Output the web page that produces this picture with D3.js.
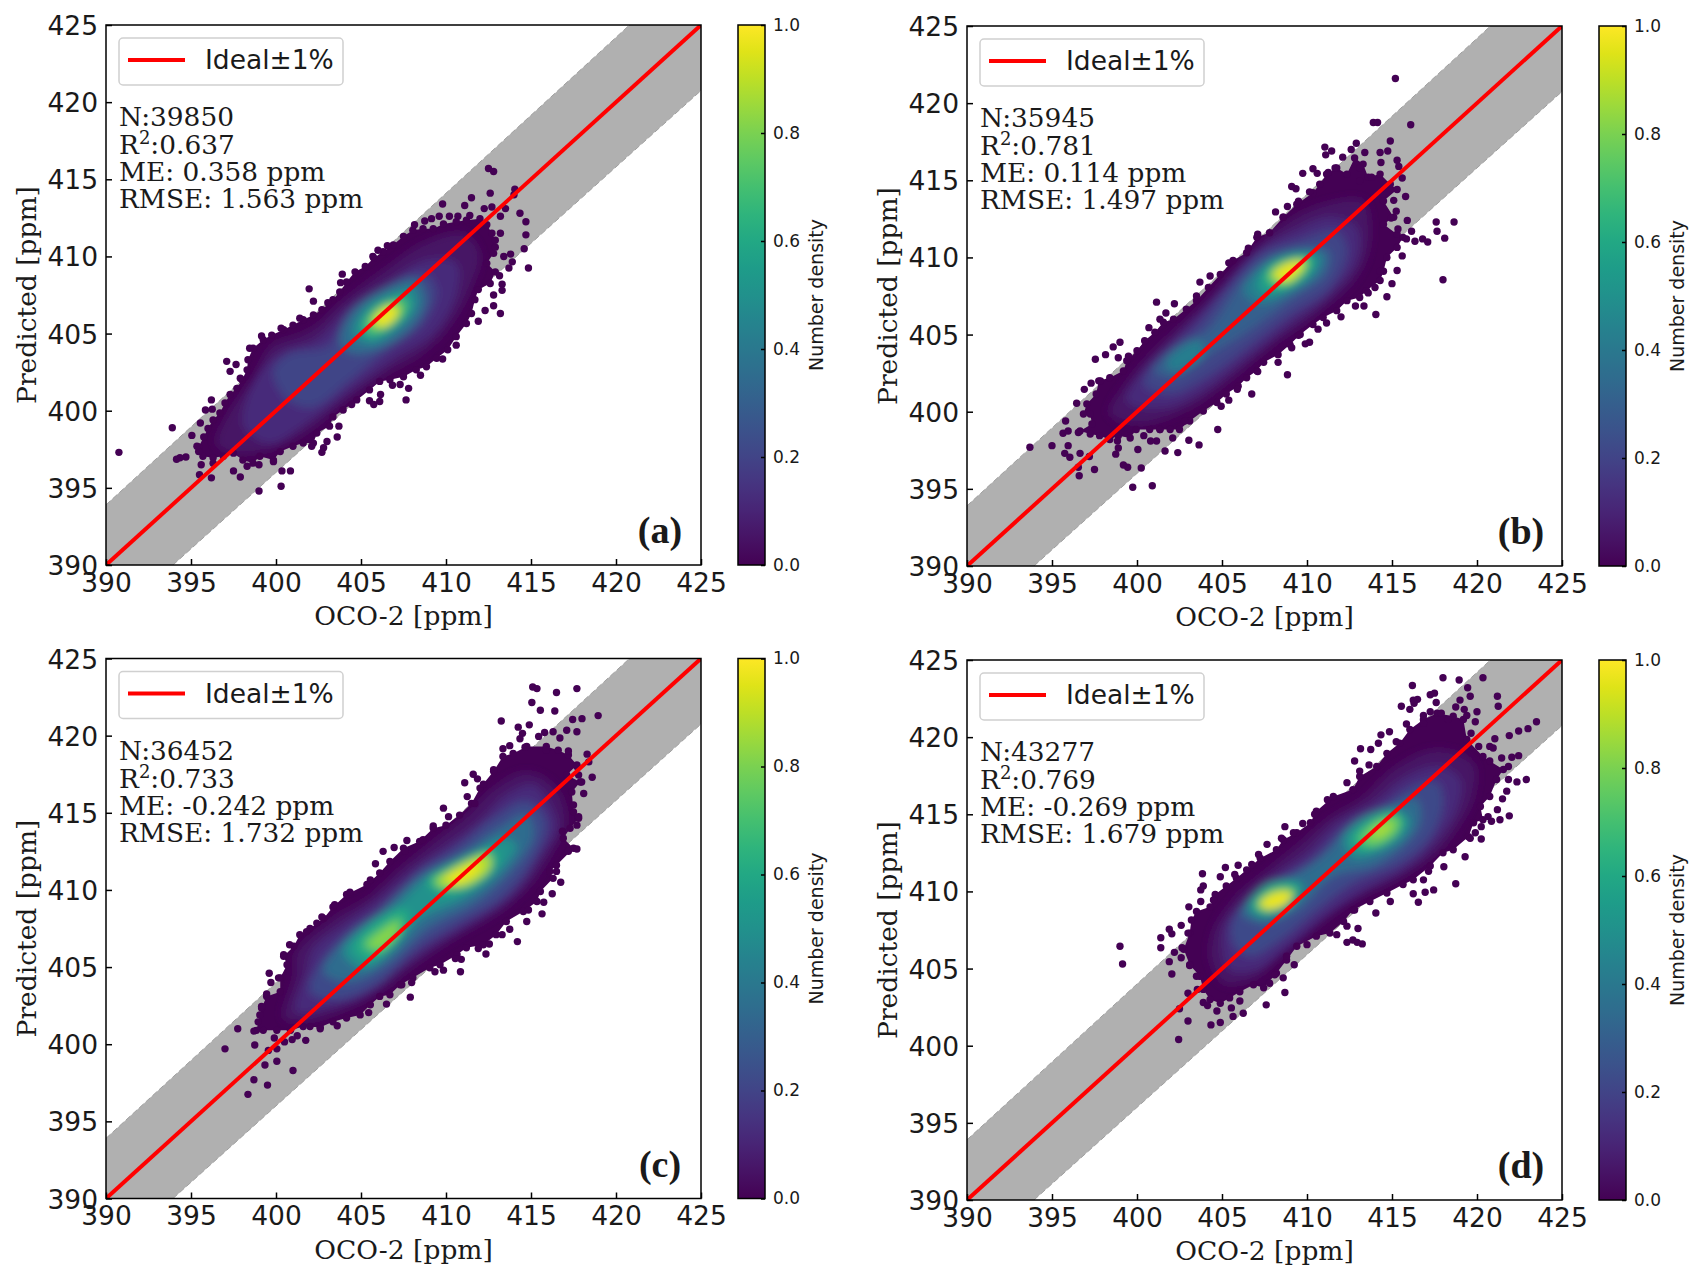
<!DOCTYPE html>
<html>
<head>
<meta charset="utf-8">
<script src="https://cdn.jsdelivr.net/npm/d3@7"></script>
<style>
  body { margin: 0; background: #fff; }
  svg { display: block; }
</style>
</head>
<body>
<svg id="fig" width="1705" height="1280"></svg>
<script>
// axis ticks and stats
const axisTicks = [390, 395, 400, 405, 410, 415, 420, 425]
const densityTicks = [0, 0.2, 0.4, 0.6, 0.8, 1]
const idealLine = [390, 425]
const panelTags = ['(a)', '(b)', '(c)', '(d)']
const statN = ['39850', '35945', '36452', '43277']
const statR2 = ['0.637', '0.781', '0.733', '0.769']
const statME = ['0.358', '0.114', '-0.242', '-0.269']
const statRMSE = ['1.563', '1.497', '1.732', '1.679']

// points along the rim of each cloud, ppm
const edgeA = [[395.45,397.65],[395.75,398.3],[396,398.85],[396.3,399.4],[396.7,399.85],[397,400.5],[397.3,401.05],[397.7,401.45],[398,402],[398.3,402.65],[398.35,403.3],[398.65,404.05],[399.25,404.6],[399.75,404.9],[400.45,405.25],[401,405.55],[401.6,405.9],[402.2,406.2],[402.7,406.55],[403.35,407.2],[403.75,407.7],[404.15,408.35],[404.65,409],[405.25,409.35],[405.75,409.9],[406.3,410.3],[406.9,410.75],[407.5,411.3],[408.05,411.7],[408.65,411.8],[409.25,411.8],[409.85,412.1],[410.6,412.25],[411.2,412.35],[412,412.45],[412.4,412.05],[412.7,411.5],[412.9,411.05],[412.8,410.2],[412.4,409.55],[412.9,409],[412.6,408.25],[411.9,407.85],[411.7,407.2],[411.5,406.3],[411.2,405.65],[410.6,404.8],[410.1,403.95],[409.45,403.4],[408.85,402.85],[408.25,402.65],[407.5,402.2],[406.7,402],[406.1,401.9],[405.5,401.35],[404.75,400.7],[403.95,400.05],[403.35,399.6],[403.15,399],[402.4,398.55],[402.2,397.9],[401.6,397.9],[401,397.7],[400.25,397.35],[399.85,396.8],[399.05,397.05],[398.65,396.6],[398.05,396.8],[397.5,397.25],[396.9,397.05],[396.3,396.95],[395.7,397.05],[395.45,397.35]]
const edgeB = [[396.85,399.85],[397.05,400.5],[397.6,401.15],[397.75,402],[398.4,402.2],[399.2,402.65],[399.4,403.3],[400,403.95],[400.45,404.6],[401.05,405.15],[401.55,405.8],[402.15,406],[402.9,406.65],[403.5,407.2],[404.2,408.05],[404.9,408.9],[405.65,409.8],[406.45,410.3],[407.05,411.3],[407.8,411.6],[408.6,412.6],[409.4,413.45],[410.35,414.2],[410.75,414.75],[411.15,415.4],[411.75,415.8],[412.35,415.4],[412.8,416.45],[413.3,416.05],[413.6,415.2],[414.3,415.4],[414.9,414.75],[415.3,414.4],[414.5,413.65],[415.1,412.6],[414.5,412.15],[415.3,411.5],[415.65,411.3],[415.3,410.65],[414.7,410],[414.5,409.1],[414.3,408.5],[413.5,407.85],[413.1,407.4],[412.35,407.2],[411.75,406.55],[410.95,406.1],[410.35,405.65],[409.6,405],[409,404.35],[408.3,403.7],[407.45,403.2],[407.05,402.65],[406.45,402.2],[405.95,401.65],[405.25,401.15],[404.7,400.6],[403.9,400.05],[403.1,399.4],[402.5,398.85],[401.95,398.85],[401.35,398.85],[400.75,398.85],[399.95,398.85],[399.6,398.3],[398.9,398.45],[398.4,398.2],[397.8,398.45],[397.25,398.55],[396.65,398.75],[397.35,399.2],[397.25,399.85]]
const edgeC = [[398.85,400.9],[399.05,401.9],[399.15,402.35],[399.45,403.1],[400.25,403.4],[400.25,404.3],[400.65,405.15],[400.45,405.7],[401.05,406.35],[401.4,407.1],[402,407.5],[402.8,408.15],[403.35,408.9],[404.15,409.7],[405.35,410.35],[406.1,411.1],[406.7,411.85],[407.5,412.7],[408.45,413.15],[409.25,414],[410,414.2],[410.8,414.85],[411.5,415.6],[412,416.6],[412.8,417.7],[413.35,418.65],[413.95,418.85],[414.75,419.3],[415.9,419.3],[416.6,419.05],[417.2,418.75],[417.7,418.1],[417.1,417.45],[417.9,417],[417.4,416.35],[417.5,415.05],[417.8,414.65],[417.3,414],[416.9,413.35],[417.5,412.7],[416.5,411.6],[416.1,411.2],[416.3,410.75],[415.55,409.9],[415.35,409.25],[414.55,408.6],[413.55,407.95],[412.95,407.1],[412.2,406.45],[411.2,406.25],[410.65,405.8],[409.65,405.15],[409.05,404.95],[408.05,404.3],[407.3,403.85],[406.7,403.2],[406.1,403.1],[405.55,402.55],[404.95,401.9],[404.15,401.7],[403.35,401.45],[402.6,401.1],[401.6,401.15],[400.85,400.9],[400.05,400.9],[399.25,400.9]]
const edgeD = [[403.2,408.15],[403.5,408.7],[404.3,409],[404.6,409.8],[405.25,410.35],[405.85,410.85],[406.45,411.4],[407.25,412.15],[408.2,412.7],[408.6,413.35],[409.4,413.8],[410.2,414.45],[410.55,415.2],[411.55,416.15],[412.7,416.6],[413.1,417.45],[414.1,418.1],[414.7,418.95],[415.45,419.6],[416.05,420.5],[416.85,421.15],[417.65,421.55],[418.6,421.35],[419.2,421.15],[419.4,419.85],[420.35,418.75],[420.75,418.45],[421.55,417.9],[421.15,417.25],[420.75,416.15],[420.2,415.5],[420.35,414.65],[419.8,414.45],[419.5,413.55],[418.6,412.7],[418,412.5],[417.25,411.65],[416.25,410.75],[415.65,410.45],[414.7,409.9],[413.7,409.35],[412.7,408.8],[412.15,408.05],[411.35,407.3],[410.55,407.1],[409.4,406.45],[408.8,405.55],[408.2,404.7],[407.45,403.75],[406.85,403.95],[406.05,403.5],[405.45,403.1],[404.9,402.75],[404.3,403],[403.9,403.65],[403.7,404.5],[403.1,405.25],[402.75,406.25],[403.1,407.3]]

// scattered single points around each cloud, ppm
const dotsA = [[412.5,415.7],[412.8,415.5],[412.6,414.1],[411.5,413.8],[411.1,413.3],[409.8,413.4],[414.05,414.35],[414,414],[412.7,413.2],[412.25,413.1],[413.5,413.1],[414.35,412.8],[414.7,412.25],[414.7,411.4],[414.6,410.5],[414.85,409.25],[413.2,412.6],[413.2,411.5],[412.9,410.6],[413.8,410.15],[413.4,410],[413.9,409.65],[413.7,409.25],[413.15,408.75],[413.3,408.2],[413.3,407.8],[412.8,407.5],[412.8,406.8],[412.3,406.5],[413.2,406.3],[411.9,405.8],[410.6,404.25],[409.8,403.35],[408.5,402.3],[407.8,401.45],[407.65,400.7],[407.3,401.7],[406.85,401.65],[406.15,401.05],[405.5,400.65],[405.75,400.4],[406.1,400.6],[404.45,400.4],[403.7,399],[403.6,398.3],[403,398],[402.8,397.6],[402.7,397.3],[402.1,397.7],[400.85,396.1],[400.35,396.1],[400.3,395.1],[399,394.8],[397.9,395.7],[397.5,396.1],[396.2,395.65],[395.5,395.85],[395.6,396.5],[394.7,397],[394.35,396.95],[394.15,396.85],[393.9,398.9],[395.05,398.4],[395.35,397.7],[395.55,399.2],[395.85,400.05],[396.25,400.1],[396.2,400.7],[397.1,403.2],[397.65,403],[397.3,402.55],[397.9,402.1],[401.95,407.9],[402.2,407.1],[403.05,407],[403.9,408.85],[403.8,408.3],[400.3,405.35],[401.4,406],[399.15,404.85],[405.7,410],[406,410.4],[406.55,410.7],[408.15,412.05],[408.75,412.3],[409.15,412.45],[409.6,412.6],[410.2,412.6],[410.7,412.6],[411.4,412.65],[398.45,404.05],[399,396.5],[398.3,396.4],[399.85,396.7],[396.3,396.6],[390.76,397.3]]
const dotsB = [[415.2,421.6],[413.9,418.75],[414.15,418.75],[416.1,418.6],[414.9,417.55],[411.05,417.15],[411.45,416.9],[411.1,416.65],[412.9,417.4],[412.6,417],[413.4,416.8],[412.1,416.5],[414.3,416.8],[414.75,416.9],[415.3,416.3],[415.4,415.9],[415.6,415.15],[410.35,415.75],[409.75,415.45],[410.6,415.45],[409.1,414.6],[409.35,414.45],[410.15,414.25],[411.25,415.5],[411.65,415.8],[413.1,415.8],[413.8,415.2],[413.1,414.95],[414.35,416.15],[415.8,413.95],[415.1,413.7],[415.25,413],[415.9,412.4],[414.95,412.55],[417.6,412.3],[418.65,412.3],[417.65,411.7],[418.1,411.25],[416.8,411.2],[417.1,411],[416.35,411.05],[416.15,411.7],[415.85,411.2],[415.35,411.85],[415.6,410.1],[415.3,409.15],[418,408.55],[415,408.3],[414.7,407.45],[414.05,406.3],[414,408.05],[413.6,407.7],[414.3,409.1],[413.35,406.85],[412.85,406.85],[412,406.15],[411.15,405.75],[410.65,405.35],[410.15,404.5],[409.9,404.4],[409.1,404.15],[409.5,404.95],[408.85,402.4],[408.3,403.2],[407.1,402.6],[406.75,401.15],[405.9,401.45],[405.4,400.75],[404.95,400.35],[404.75,398.85],[403.65,397.85],[403.05,398.15],[402.4,397.35],[401.65,397.45],[402.1,398.3],[401.15,398.1],[400.8,398.1],[400.4,398.45],[400.05,397.55],[400.25,396.35],[399.45,396.4],[399.2,396.55],[400.9,395.2],[399.75,395.1],[397.5,396.25],[396.6,395.85],[396.55,396.4],[397.2,397.1],[396.05,397.05],[395.75,397.3],[396.65,397.3],[395.95,397.8],[395,397.8],[393.7,397.7],[398.75,397.25],[398.9,397.65],[395.65,398.6],[395.95,398.75],[395.8,399.4],[396.55,398.65],[396.45,400.55],[396.9,401.45],[397.3,401.85],[397.85,402],[397.55,403.4],[398.15,403.7],[398.6,404.2],[399,404.5],[398.9,403.5],[399.5,403.6],[400.7,405.45],[401.15,407.1],[402.2,407],[401.7,406.4],[401.35,406],[403.7,408.4],[404.3,408.8],[403.5,407.5],[406.55,410.6],[407.1,411.5],[405.4,409.65],[408.15,412.95],[408.85,413.3],[408.6,412.6],[409.5,413.65],[401.35,398.85],[402.8,399.4],[398.85,398.1]]
const dotsC = [[415.1,423.15],[415.35,423.05],[416.5,422.8],[417.7,423.05],[415.05,422.15],[415.55,421.65],[416.4,421.6],[418.95,421.3],[417.45,421.05],[418,421.1],[413.25,420.95],[414.9,420.7],[414.25,420.55],[414.5,420.15],[414.35,419.8],[415.8,420.2],[415.45,419.95],[416.3,420.25],[417.1,420.35],[417.7,420.25],[416.7,419.85],[413.75,419.35],[413.35,419.15],[414.65,419.25],[415.9,419.05],[417.2,419],[418.3,418.8],[418.4,418.3],[417.7,418],[418.6,417.3],[417.98,417],[418.1,416.25],[417.8,417.45],[417.5,415.5],[417.8,414.75],[417.7,414.2],[416.85,413.8],[417.7,412.65],[417.2,412.5],[416.75,410.5],[416.5,411.2],[416.25,409.75],[415.75,409.2],[415.65,408.45],[414.85,408.7],[414.75,407.95],[414.2,406.65],[413.75,407.45],[413.3,407.1],[412.55,406.5],[412.35,405.85],[411.9,406.2],[410.9,405.5],[410.85,404.7],[410.55,405.55],[409.85,404.8],[409.35,404.7],[407.98,404],[407.9,403.05],[407.4,403.85],[406.5,402.6],[405.45,402.05],[403.6,401.2],[402.6,401],[402,401.15],[401.75,400.25],[401.25,400.55],[400.95,400.3],[400.5,400.15],[399.9,400.4],[400.05,399.7],[399.55,399.6],[398.75,399.95],[398.7,400.85],[397.75,401],[397,399.7],[400.05,398.9],[399.35,398.65],[401,398.3],[398.7,397.7],[399.5,397.35],[398.35,396.75],[398.95,401.45],[399.15,402.45],[399.45,403.25],[400.15,404.3],[399.6,404.6],[399.7,404],[400.45,405.8],[400.8,406.45],[401.8,407.3],[402.4,407.85],[402.7,408.25],[403.45,409.05],[404.35,409.85],[405.55,410.65],[405.85,411.7],[406.3,412.5],[406.95,412.75],[407.7,413.2],[407.6,412.5],[409.25,414.15],[408.65,413.25],[409.85,415.3],[410.15,414.75],[411.1,416.95],[411.6,417.5],[411.85,417.2],[412.2,416.85],[411.25,416.05],[412.8,417.8],[411.7,415.6]]
const dotsD = [[418,423.85],[418.95,423.7],[420.35,423.85],[416.2,423.35],[419.45,423.2],[417.25,422.75],[417.5,422.85],[419.6,422.65],[421.2,422.65],[416.25,422.4],[416.5,422.45],[416.3,422.2],[419,422.4],[417.6,422.25],[421.25,422],[415.55,422],[416.05,421.8],[419.25,421.8],[418.75,421.95],[420,421.65],[417.25,421.65],[416.85,421.4],[417.9,421.55],[418.3,421.15],[419.4,421.4],[419.9,421],[415.85,420.85],[416.85,420.9],[419.65,420.25],[414.85,420.35],[414.35,420.15],[423.5,421],[423,420.55],[422.45,420.4],[421.9,420.1],[421.05,419.9],[420.75,419.4],[420.1,419.4],[420.95,419.3],[422.45,418.8],[422.05,418.7],[421.45,418.65],[421.85,418.1],[422.9,417.25],[422.35,417.1],[421.85,417.25],[421.75,416.5],[421.5,416],[421.2,415.3],[421.9,414.9],[421.35,414.65],[420.65,414.85],[420.85,414.55],[420.25,413.4],[420.25,414.2],[419.9,413.8],[419.6,413.45],[419.3,412.25],[418.75,410.5],[418.05,411.6],[417.45,410.1],[416.95,409.95],[416.25,409.85],[416.55,409.3],[417.15,411.3],[416.85,410.75],[414.9,409.35],[414.05,408.6],[412.8,408.8],[413,407.6],[412.35,407.75],[412.35,406.7],[412.7,406.85],[413.25,406.6],[412.95,406.7],[411.75,407.2],[410,406.55],[409.25,405.25],[408.8,405.8],[408.7,403.45],[408.6,404.4],[408.1,404.6],[407.8,404.05],[407.6,402.65],[406.25,402.1],[405.65,401.9],[405.55,402.45],[406.05,402.9],[404.9,401.5],[404.35,401.35],[404.7,402.25],[403,401.6],[402.45,400.4],[402.5,402.4],[403.9,402.8],[404.15,402.6],[403,403.4],[403.55,403.65],[403.5,404.5],[402.05,404.65],[401.9,405.45],[403.1,405.2],[402.6,405.7],[402.2,406.05],[401.4,406.35],[401.4,407],[402.65,406.35],[402.05,407.25],[401.9,407.55],[402.6,407.8],[403,407.3],[403.05,409],[403.75,409.35],[403.85,411.15],[404.9,410.95],[403.9,410.35],[403.75,410.1],[404.5,409.45],[405.2,411.55],[405.95,411.7],[405.75,411.1],[406.75,411.75],[407.15,412.4],[407.65,413.05],[408.5,413.45],[408.7,414.2],[409.75,414.4],[409.2,413.8],[410.45,415],[411.2,415.95],[412.35,417.05],[412.8,418.45],[413.15,419.25],[413.1,417.8],[413.75,419.2],[413.65,418.2],[414.2,419.6],[415.25,419.7],[399.15,405.3],[399,406.45]]

// density contours traced by eye: [level, outline in ppm]
const ringsA = [
  [0.05, [[396.5,397.9],[397.3,400.05],[398.7,402.2],[399.65,404.15],[402,405.25],[404,407.2],[406.3,409.1],[408.65,410.85],[411,411.5],[412,410.2],[411.4,407.8],[410.2,405.45],[408.65,403.75],[406.5,402.4],[404,400.5],[402,398.75],[399.65,397.45],[397.3,397.25]]],
  [0.12, [[398.1,399],[398.7,401.8],[400.2,403.7],[402.4,404.6],[404.35,406.75],[406.5,408.25],[408.85,409.75],[410.6,409.55],[410.6,407.6],[409.25,405],[407.1,403.5],[404.35,401.35],[402,399.4],[399.65,397.9]]],
  [0.2, [[399.85,402.65],[400.8,403.7],[403,404.15],[404.35,406.1],[406.3,407.85],[408.65,408.9],[409.45,407.85],[408.65,405.65],[406.7,404.15],[404.35,402],[402.2,400.25],[401,400.5],[400.2,401.35]]],
  [0.35, [[403.75,404.6],[404.35,406.3],[406.3,407.85],[408.25,408.5],[408.85,407.2],[407.9,405.25],[406,403.95],[404.35,403.75]]],
  [0.5, [[404.55,405],[405.15,406.55],[406.7,407.6],[408.05,407.85],[408.25,406.75],[407.1,405.25],[405.55,404.35]]],
  [0.7, [[405.15,405.45],[405.75,406.55],[406.9,407.2],[407.7,407.2],[407.6,406.3],[406.5,405.25],[405.55,404.9]]],
  [0.85, [[405.55,405.8],[406.1,406.55],[407.1,406.9],[407.35,406.55],[406.7,405.65],[405.9,405.35]]],
  [0.97, [[405.8,405.8],[406.45,406.7],[407.1,406.7],[407,406],[406.3,405.45]]]
]
const ringsB = [
  [0.05, [[398.4,399.85],[399.6,402.2],[401.55,404.6],[403.9,406.95],[406.25,409.8],[408.6,412.15],[410.95,413.45],[413.3,413.65],[413.7,411.05],[412.9,408.7],[410.55,406.3],[407.8,404.15],[405.45,402],[403.1,400.25],[400.35,399.2]]],
  [0.12, [[399.4,400.7],[400.4,402.65],[402.35,404.8],[404.7,407.6],[407.05,410.4],[409.2,411.7],[411.35,412.6],[412.9,411.95],[412.9,409.75],[411.35,407.6],[409,405.65],[406.25,403.3],[403.9,401.35],[401.55,400.25]]],
  [0.2, [[400.4,401.8],[401.55,403.7],[403.5,405.45],[405.25,407.85],[407.25,410.2],[409.4,411.05],[411.75,411.7],[412.35,410.4],[411.35,408.05],[409,406.3],[406.45,404.15],[404.3,402.4],[401.95,401.15]]],
  [0.3, [[400.95,402.65],[402.55,404.35],[404.1,405.25],[406.25,408.5],[407.8,410],[410,410.65],[411.35,410.4],[411.15,408.9],[409,407.2],[406.25,405],[404.3,403.7],[402.15,402.2]]],
  [0.42, [[401.75,403.3],[402.55,404.15],[403.7,404.6],[403.9,403.7],[402.9,402.85],[401.95,402.65]]],
  [0.42, [[406.25,407.85],[407.45,409.55],[409.2,410.4],[410.95,410.2],[410.75,409.1],[408.8,407.6],[407.25,406.95]]],
  [0.55, [[407.05,408.25],[407.8,409.55],[409.2,410.1],[410.55,410],[410.2,408.9],[408.6,407.8],[407.45,407.6]]],
  [0.72, [[407.6,408.7],[408.4,409.65],[409.6,410],[410.25,409.8],[409.6,408.7],[408.3,408.05]]],
  [0.88, [[407.9,408.9],[408.8,409.65],[409.8,409.8],[409.8,409.25],[408.8,408.35]]],
  [0.97, [[408.1,408.85],[409,409.65],[409.8,409.65],[409.3,408.9],[408.6,408.5]]]
]
const ringsC = [
  [0.05, [[400.45,401.7],[401.05,404.3],[401.2,406],[403.35,408.15],[405.35,409.45],[407.3,411.4],[409.25,413.15],[411.2,414.85],[412.8,416.6],[414.75,417.65],[416.5,416.6],[417.1,414.45],[416.3,412.5],[414.95,410.3],[413.2,408.6],[410.85,407.1],[408.45,405.35],[406.1,403.4],[403.75,402.1],[401.6,401.45]]],
  [0.12, [[401.2,402.1],[401.8,404.7],[402.2,406.2],[403.95,407.75],[405.9,409.25],[407.7,411],[409.85,412.7],[412,414.45],[413.55,416.15],[415.15,416.8],[416.1,415.5],[416.5,414],[415.5,412.05],[414.15,409.9],[412,408.15],[409.65,406.65],[407.3,404.9],[405.35,403.2],[402.98,402.35]]],
  [0.22, [[402,403.4],[402.8,405.55],[404.55,407.5],[406.5,408.8],[408.45,411.2],[410.6,412.7],[412.8,414.65],[414.75,415.75],[415.9,414.45],[415.15,412.05],[413.2,409.45],[410.85,407.95],[408.25,406.2],[406.1,404.05],[403.75,402.95]]],
  [0.35, [[402.8,404.7],[404.15,406.85],[406.1,408.6],[408.25,410.75],[410.8,412.25],[413.15,414],[414.75,414.85],[415.15,413.55],[413.95,411.4],[411.8,409.25],[408.85,407.5],[406.7,405.35],[404.35,404.05]]],
  [0.5, [[403.95,406],[405.35,407.75],[406.9,408.8],[408.85,410.75],[411.2,412.05],[413.35,413.35],[414.15,412.9],[413.15,411.2],[411,409.45],[408.45,408.15],[406.9,406.2],[405.15,404.9]]],
  [0.6, [[404.55,406.2],[405.9,407.95],[407.3,408.8],[407.9,408.4],[407.1,406.65],[405.55,405.35]]],
  [0.6, [[408.85,410.55],[410.6,411.85],[412.8,412.7],[413.15,412.05],[411.8,410.3],[409.85,409.7]]],
  [0.75, [[405.15,406.45],[406.3,407.6],[407.3,408.15],[407.3,407.3],[406.1,406]]],
  [0.82, [[405.5,406.4],[406.4,407.4],[407.1,407.8],[407,407.1],[406.1,406.3]]],
  [0.75, [[409.25,410.65],[410.8,411.5],[412.4,412.25],[412.4,411.4],[411,410.3],[409.65,410.1]]],
  [0.88, [[409.5,410.5],[410.9,411.7],[412.5,412.3],[412.6,411.4],[411,410.2]]],
  [0.97, [[410,410.7],[411.1,411.5],[412,411.8],[411.9,411.2],[410.7,410.4]]]
]
const ringsD = [
  [0.05, [[404.5,407.5],[405.85,409.7],[407.65,411.4],[409.6,413.15],[411.15,414.65],[413.1,415.95],[415.25,418.1],[417.65,419.2],[419.8,418.3],[419.8,416.15],[418.8,414],[417.65,412.5],[415.25,410.75],[412.7,409.45],[410.55,407.75],[408.4,405.8],[406.85,404.3],[405.1,404.05],[404.3,405.6]]],
  [0.12, [[405.1,407.5],[406.25,409.25],[407.8,410.75],[410,412.5],[411.75,414.45],[413.9,415.75],[415.85,417.45],[417.8,418.1],[419,417.25],[418.8,415.3],[417.8,413.55],[416.05,411.65],[413.5,410.1],[411.15,408.4],[408.8,406.25],[407.05,404.95],[405.45,404.95]]],
  [0.22, [[405.65,408.15],[406.65,409.45],[408.4,410.75],[410.35,412.05],[412.15,414],[414.3,415.3],[416.25,416.8],[417.65,417.05],[418,415.75],[417.25,413.55],[415.45,411.85],[412.7,410.55],[410.55,408.8],[408.4,406.85],[406.65,405.8],[405.65,406.65]]],
  [0.35, [[406.15,408.6],[407.25,410.1],[409.2,411],[411.15,412.5],[412.7,414.45],[414.9,415.5],[416.45,415.95],[416.65,414.45],[415.85,413.15],[413.9,411.65],[411.55,411],[409.4,408.8],[407.45,407.95]]],
  [0.5, [[406.55,408.95],[407.45,410.35],[409,410.75],[409.8,410.35],[409,409.05],[407.45,408.3]]],
  [0.5, [[412.15,413.35],[413.5,414.85],[415.25,415.3],[416.05,414.65],[415.65,413.55],[414.1,412.5],[412.7,412.25]]],
  [0.65, [[406.85,409.05],[407.65,410.1],[408.8,410.45],[409.5,410.1],[408.8,409.15],[407.45,408.6]]],
  [0.65, [[412.7,413.35],[413.9,414.65],[415.25,415],[415.65,414.45],[414.7,413.25],[413.3,412.7]]],
  [0.82, [[407.15,409.15],[407.8,409.9],[408.8,410.1],[409.2,409.9],[408.6,409.15],[407.65,408.8]]],
  [0.78, [[413.2,413.4],[414.2,414.6],[415.3,414.8],[415.3,413.9],[414,413]]],
  [0.88, [[413.8,413.7],[414.5,414.35],[415,414.4],[414.7,413.9],[414.1,413.55]]],
  [0.97, [[407.2,409.15],[408.1,409.9],[409.1,409.9],[408.8,409.2],[407.8,408.85]]]
]

const allEdges = [edgeA, edgeB, edgeC, edgeD]
const allDots = [dotsA, dotsB, dotsC, dotsD]
const allRings = [ringsA, ringsB, ringsC, ringsD]

// layout of the four axes
const panelLeft = [106, 967, 106, 967]
const panelTop = [25, 26, 658.5, 660]
const panelWidth = 595
const panelHeight = 540
const serif = '"DejaVu Serif", serif'
const sans = '"DejaVu Sans", sans-serif'

const svg = d3.select('#fig')
const defs = svg.append('defs')

defs.append('filter')
  .attr('id', 'soft')
  .attr('filterUnits', 'userSpaceOnUse')
  .attr('x', 0).attr('y', 0).attr('width', 1705).attr('height', 1280)
  .append('feGaussianBlur')
  .attr('stdDeviation', 4)

const cbGradient = defs.append('linearGradient')
  .attr('id', 'viridisBar')
  .attr('x1', 0).attr('y1', 1).attr('x2', 0).attr('y2', 0)
cbGradient.selectAll('stop')
  .data(d3.range(0, 1.001, 0.05))
  .enter().append('stop')
  .attr('offset', d => d)
  .attr('stop-color', d => d3.interpolateViridis(d))

panelTags.forEach((tag, i) => drawPanel(i))

function styleAxis (g, size) {
  g.select('.domain').remove()
  g.selectAll('.tick line').attr('stroke', '#000').attr('stroke-width', 1.5)
  g.selectAll('.tick text').attr('font-family', sans).attr('font-size', size).attr('fill', '#1a1a1a')
}

function drawPanel (i) {
  const g = svg.append('g').attr('transform', `translate(${panelLeft[i]},${panelTop[i]})`)
  const x = d3.scaleLinear().domain([390, 425]).range([0, panelWidth])
  const y = d3.scaleLinear().domain([390, 425]).range([panelHeight, 0])

  const clipId = 'clip' + i
  defs.append('clipPath').attr('id', clipId)
    .append('rect').attr('width', panelWidth).attr('height', panelHeight)

  const plot = g.append('g').attr('clip-path', `url(#${clipId})`)

  // +-1 % band
  const band = d3.area().x(d => x(d)).y0(d => y(d * 0.99)).y1(d => y(d * 1.01))
  plot.append('path').datum(idealLine).attr('d', band).attr('fill', '#b0b0b0')
  ;[0.99, 1.01].forEach(f => {
    plot.append('path').datum(idealLine)
      .attr('d', d3.line().x(d => x(d)).y(d => y(d * f)))
      .attr('fill', 'none').attr('stroke', '#a0a0a0').attr('stroke-width', 1).attr('stroke-dasharray', '6,3')
  })

  // the cloud: rim polygon, blurred contours kept inside it, then single points
  const rimPath = d3.line().x(d => x(d[0])).y(d => y(d[1])).curve(d3.curveLinearClosed)
  const ringPath = d3.line().x(d => x(d[0])).y(d => y(d[1])).curve(d3.curveCatmullRomClosed.alpha(0.5))
  plot.append('path').attr('d', rimPath(allEdges[i])).attr('fill', d3.interpolateViridis(0))

  const cloudClip = 'cloud' + i
  defs.append('clipPath').attr('id', cloudClip)
    .append('path').attr('d', rimPath(allEdges[i]))

  plot.append('g').attr('clip-path', `url(#${cloudClip})`)
    .append('g').attr('filter', 'url(#soft)')
    .selectAll('path')
    .data(allRings[i])
    .enter().append('path')
    .attr('d', d => ringPath(d[1]))
    .attr('fill', d => d3.interpolateViridis(d[0]))

  plot.append('g').selectAll('circle')
    .data(allEdges[i].concat(allDots[i]))
    .enter().append('circle')
    .attr('cx', d => x(d[0]))
    .attr('cy', d => y(d[1]))
    .attr('r', 3.7)
    .attr('fill', d3.interpolateViridis(0))

  plot.append('path').datum(idealLine)
    .attr('d', d3.line().x(d => x(d)).y(d => y(d)))
    .attr('fill', 'none').attr('stroke', '#ff0000').attr('stroke-width', 4)

  // axes
  g.append('g').attr('transform', `translate(0,${panelHeight})`)
    .call(d3.axisBottom(x).tickValues(axisTicks).tickSize(-6).tickPadding(8))
    .call(styleAxis, 26.5)
  g.append('g')
    .call(d3.axisLeft(y).tickValues(axisTicks).tickSize(-6).tickPadding(8))
    .call(styleAxis, 26.5)
    .call(a => a.selectAll('.tick text').attr('dy', '0.36em'))
  g.append('rect').attr('width', panelWidth).attr('height', panelHeight)
    .attr('fill', 'none').attr('stroke', '#000').attr('stroke-width', 1.5)

  g.append('text').attr('x', panelWidth / 2).attr('y', panelHeight + 60)
    .attr('text-anchor', 'middle').attr('font-family', serif).attr('font-size', 26.5).attr('fill', '#1a1a1a')
    .text('OCO-2 [ppm]')
  g.append('text').attr('transform', `translate(-70,${panelHeight / 2}) rotate(-90)`)
    .attr('text-anchor', 'middle').attr('font-family', serif).attr('font-size', 26.5).attr('fill', '#1a1a1a')
    .text('Predicted [ppm]')

  // legend
  g.append('rect').attr('x', 13).attr('y', 13).attr('width', 224).attr('height', 47).attr('rx', 4)
    .attr('fill', '#fff').attr('fill-opacity', 0.8).attr('stroke', '#d0d0d0').attr('stroke-width', 1.5)
  g.append('line').attr('x1', 22).attr('x2', 79).attr('y1', 35).attr('y2', 35)
    .attr('stroke', '#ff0000').attr('stroke-width', 4)
  g.append('text').attr('x', 99).attr('y', 44)
    .attr('font-family', sans).attr('font-size', 26.5).attr('fill', '#1a1a1a')
    .text('Ideal±1%')

  // stats block
  const stats = g.append('g').attr('font-family', serif).attr('font-size', 26.4).attr('fill', '#1a1a1a')
  stats.append('text').attr('x', 13).attr('y', 101).text('N:' + statN[i])
  const r2 = stats.append('text').attr('x', 13).attr('y', 129)
  r2.append('tspan').text('R')
  r2.append('tspan').attr('dy', -10).attr('font-size', 18).text('2')
  r2.append('tspan').attr('dy', 10).text(':' + statR2[i])
  stats.append('text').attr('x', 13).attr('y', 156).text('ME: ' + statME[i] + ' ppm')
  stats.append('text').attr('x', 13).attr('y', 183).text('RMSE: ' + statRMSE[i] + ' ppm')

  g.append('text').attr('x', 554).attr('y', 518).attr('text-anchor', 'middle')
    .attr('font-family', '"Liberation Serif", serif').attr('font-weight', 'bold').attr('font-size', 38).attr('fill', '#1a1a1a')
    .text(panelTags[i])

  // colorbar
  const cb = g.append('g').attr('transform', `translate(${panelWidth + 37},0)`)
  const cbScale = d3.scaleLinear().domain([0, 1]).range([panelHeight, 0])
  cb.append('rect').attr('width', 27).attr('height', panelHeight).attr('fill', 'url(#viridisBar)')
  cb.append('g').attr('transform', 'translate(27,0)')
    .call(d3.axisRight(cbScale).tickValues(densityTicks).tickFormat(d3.format('.1f')).tickSize(-4).tickPadding(8))
    .call(styleAxis, 17)
  cb.append('rect').attr('width', 27).attr('height', panelHeight)
    .attr('fill', 'none').attr('stroke', '#000').attr('stroke-width', 1.5)
  cb.append('text').attr('transform', `translate(85,${panelHeight / 2}) rotate(-90)`)
    .attr('text-anchor', 'middle').attr('font-family', sans).attr('font-size', 19).attr('fill', '#1a1a1a')
    .text('Number density')
}
</script>
</body>
</html>
